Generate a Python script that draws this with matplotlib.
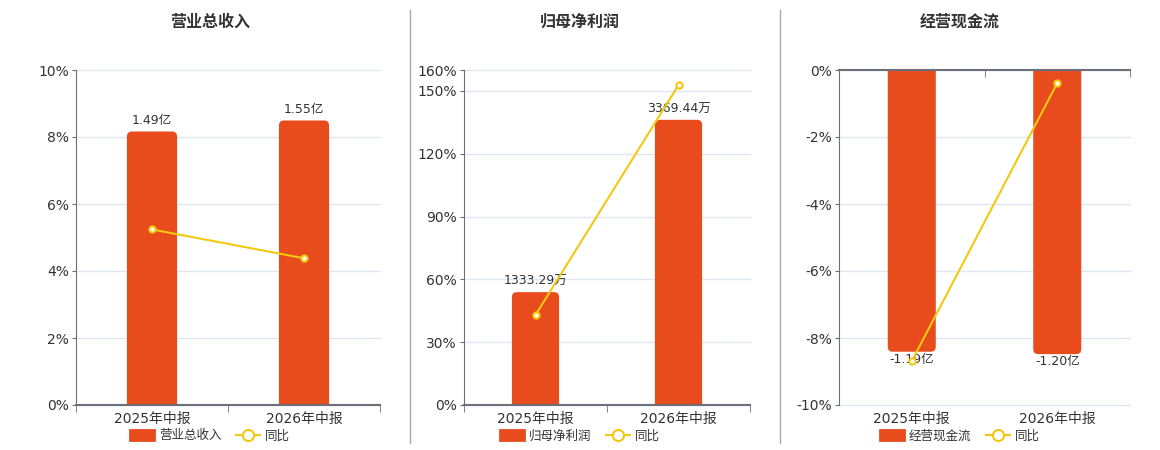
import matplotlib
matplotlib.use("Agg")
import matplotlib.pyplot as plt
from matplotlib.patches import FancyBboxPatch, Patch
from matplotlib.lines import Line2D

plt.rcParams['font.family'] = ['DejaVu Sans', 'Noto Sans CJK SC']

# 数据
periods = ['2025年中报', '2026年中报']

revenue = [1.49, 1.55]            # 亿
revenue_yoy = [5.24, 4.38]        # %
profit = [1333.29, 3369.44]       # 万
profit_yoy = [43.0, 152.8]        # %
cashflow = [-1.19, -1.20]         # 亿
cashflow_yoy = [-8.69, -0.39]     # %

W, H = 1160, 450
bar_c = '#E84B1C'
line_c = '#F2C811'
txt_c = '#333333'
axis_c = '#6E7079'
grid_c = '#E0E6F1'

fig = plt.figure(figsize=(W / 100, H / 100), dpi=100)


def px_box(l, t, r, b):
    return [l / W, 1 - b / H, (r - l) / W, (b - t) / H]


def panel(box, title, cx, vals, yoy, unit, bar_lim, pct_lim, pct_ticks, name):
    rect = px_box(*box)
    wpx = box[2] - box[0]
    hpx = box[3] - box[1]
    neg = vals[0] < 0

    # 网格
    ax_g = fig.add_axes(rect)
    ax_g.set_xlim(-0.5, 1.5)
    ax_g.set_ylim(*pct_lim)
    ax_g.set_yticks(pct_ticks)
    ax_g.grid(axis='y', color=grid_c, lw=1)
    for gl in ax_g.get_ygridlines():
        gl.set_clip_on(False)
    ax_g.tick_params(left=False, bottom=False, labelleft=False, labelbottom=False)
    for s in ax_g.spines.values():
        s.set_visible(False)

    # 柱子 (圆角)
    ax_b = fig.add_axes(rect)
    ax_b.set_xlim(-0.5, 1.5)
    ax_b.set_ylim(*bar_lim)
    ax_b.axis('off')
    bw = 0.33
    dxpp = 2.0 / wpx
    dypp = (bar_lim[1] - bar_lim[0]) / hpx
    r = 5 * dxpp
    ry = 5 * dypp
    for i, v in enumerate(vals):
        if v >= 0:
            y0, h = -ry, v + ry
        else:
            y0, h = v, -v + ry
        p = FancyBboxPatch((i - bw / 2, y0), bw, h,
                           boxstyle=f"round,pad=0,rounding_size={r}",
                           mutation_aspect=dypp / dxpp, fc=bar_c, ec='none')
        ax_b.add_patch(p)
        ax_b.annotate(f"{v:.2f}{unit}", (i, v),
                      xytext=(0, 3 if v >= 0 else -1), textcoords='offset points',
                      ha='center', va='bottom' if v >= 0 else 'top',
                      fontsize=9, color=txt_c)

    # 同比折线 + 坐标轴
    ax = fig.add_axes(rect)
    ax.patch.set_visible(False)
    ax.set_xlim(-0.5, 1.5)
    ax.set_ylim(*pct_lim)
    ax.plot([0, 1], yoy, color=line_c, lw=1.5, marker='o', ms=4.5,
            mfc='white', mec=line_c, mew=1.5, clip_on=False)
    ax.set_yticks(pct_ticks)
    ax.set_yticklabels([f"{t:g}%" for t in pct_ticks])
    ax.tick_params(axis='y', length=3, pad=2, color=axis_c, labelsize=10, labelcolor=txt_c)
    ax.set_xticks([0, 1])
    ax.set_xticklabels(periods)
    ax.set_xticks([-0.5, 0.5, 1.5], minor=True)
    ax.tick_params(axis='x', which='major', length=0, pad=5, labelsize=10, labelcolor=txt_c)
    ax.spines['right'].set_visible(False)
    ax.spines['left'].set_color(axis_c)
    if neg:
        ax.spines['bottom'].set_visible(False)
        ax.spines['top'].set_color(axis_c)
        ax.spines['top'].set_linewidth(1.5)
        ax.tick_params(axis='x', which='minor', top=True, bottom=False,
                       direction='in', length=5, color=axis_c)
    else:
        ax.spines['top'].set_visible(False)
        ax.spines['bottom'].set_color(axis_c)
        ax.spines['bottom'].set_linewidth(1.5)
        ax.tick_params(axis='x', which='minor', length=5, color=axis_c)

    handles = [Patch(fc=bar_c, ec=bar_c, lw=2, joinstyle='round', label=name),
               Line2D([0], [0], color=line_c, lw=1.5, marker='o', ms=8,
                      mfc='white', mew=1.5, label='同比')]
    ax.legend(handles=handles, loc='center', bbox_to_anchor=(cx / W, 1 - 436 / H),
              bbox_transform=fig.transFigure, ncol=2, frameon=False, fontsize=9,
              handlelength=1.9, handleheight=0.9, columnspacing=1.2,
              handletextpad=0.4, labelcolor=txt_c)

    fig.text(cx / W, 1 - 22 / H, title, ha='center', va='center',
             fontsize=11.5, fontweight='bold', color=txt_c)


panel((76, 70, 380, 405), '营业总收入', 210, revenue, revenue_yoy, '亿',
      (0, 1.825), (0, 10), [0, 2, 4, 6, 8, 10], '营业总收入')
panel((464, 70, 750, 405), '归母净利润', 580, profit, profit_yoy, '万',
      (0, 3958), (0, 160), [0, 30, 60, 90, 120, 150, 160], '归母净利润')
panel((839, 70, 1130, 405), '经营现金流', 960, cashflow, cashflow_yoy, '亿',
      (-1.415, 0), (-10, 0), [0, -2, -4, -6, -8, -10], '经营现金流')

for x in (410, 780):
    fig.add_artist(Line2D([x / W, x / W], [1 - 10 / H, 1 - 443 / H],
                          color='#AAAAAA', lw=1))

fig.savefig('out.png', dpi=100)
